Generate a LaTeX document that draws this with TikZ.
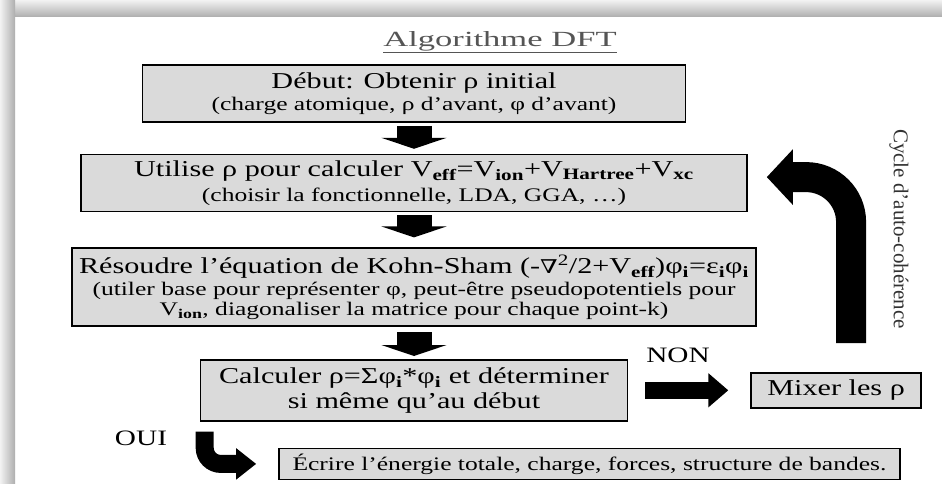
\documentclass[tikz,border=0pt]{standalone}
\usepackage{fontspec}
\setmainfont{Liberation Serif}
\newfontfamily\boxfont[FakeStretch=1.33]{Liberation Serif}
\newfontfamily\titlefont[FakeStretch=1.6]{Liberation Serif}
\newfontfamily\nablafont[FakeStretch=1.33]{DejaVu Serif}
\usetikzlibrary{positioning, arrows.meta}
\definecolor{boxgray}{RGB}{218,218,218}
\definecolor{titlegray}{RGB}{85,85,85}
\definecolor{sidegray}{RGB}{50,50,50}
\newcommand{\fsmain}{\fontsize{22.7}{22}\selectfont}
\newcommand{\fsnote}{\fontsize{19.2}{21}\selectfont}
\newcommand{\lowidx}[1]{\textsubscript{\bfseries #1}}

\begin{document}
\begin{tikzpicture}[x=1pt, y=1pt,
  node distance=31pt and 122pt,
  stage/.style={draw, line width=1.6pt, fill=boxgray, align=center,
                font=\boxfont\fsmain, inner sep=2pt},
  lbl/.style={font=\boxfont\fontsize{22}{22}\selectfont},
  sidelbl/.style={font=\fontsize{21}{21}\selectfont, text=sidegray},
  downarrow/.style={line width=35pt, -{Triangle[width=65pt, length=11pt]}},
  rightarrow/.style={line width=17pt, -{Triangle[width=33pt, length=20pt]}},
  ouiarrow/.style={line width=18pt, rounded corners=16pt, -{Triangle[width=30pt, length=20pt]}},
  cyclearrow/.style={line width=30pt, rounded corners=45pt, -{Triangle[width=54pt, length=26pt]}}]
  % page and frame
  \fill[white] (0,0) rectangle (942,-484);
  \useasboundingbox (0,0) rectangle (942,-484);
  \shade[top color=black!5, bottom color=black!32] (0,0) rectangle (942,-17);
  \shade[left color=black!5, right color=black!32] (0,0) rectangle (15,-484);

  \node[font=\titlefont\fontsize{21.6}{22}\selectfont, text=titlegray] (title) at (500,-42) {\underline{Algorithme DFT}};

  % main column
  \node[stage, minimum width=543pt, minimum height=57pt] (debut) at (414,-93.5)
    {Début: Obtenir ρ initial\\{\fsnote (charge atomique, ρ d’avant, φ d’avant)}};
  \node[stage, minimum width=666pt, minimum height=57pt, below=31pt of debut] (veff)
    {Utilise ρ pour calculer V\lowidx{eff}=V\lowidx{ion}+V\lowidx{Hartree}+V\lowidx{xc}\\[3pt]{\fsnote (choisir la fonctionnelle, LDA, GGA, …)}};
  \node[stage, minimum width=684pt, minimum height=78pt, below=35pt of veff] (kohn)
    {Résoudre l’équation de Kohn-Sham (-{\nablafont\fontsize{19}{19}\selectfont ∇}\textsuperscript{2}/2+V\lowidx{eff})φ\lowidx{i}=ε\lowidx{i}φ\lowidx{i}\\{\fsnote (utiler base pour représenter φ, peut-être pseudopotentiels pour}\\[-2pt]{\fsnote V\lowidx{ion}, diagonaliser la matrice pour chaque point-k)}};
  \node[stage, minimum width=427pt, minimum height=61pt, below=32pt of kohn] (rho)
    {Calculer ρ=Σφ\lowidx{i}*φ\lowidx{i} et déterminer\\[3pt]si même qu’au début};
  \node[stage, minimum width=170pt, minimum height=35pt, right=of rho] (mixer) {Mixer les ρ};
  \node[stage, font=\boxfont\fsnote, minimum width=621pt, minimum height=31pt,
        below=26pt of rho, xshift=175.5pt] (ecrire)
    {Écrire l’énergie totale, charge, forces, structure de bandes.};

  % block arrows
  \draw[downarrow, shorten <=3pt, shorten >=5pt] (debut.south) -- (debut.south |- veff.north);
  \draw[downarrow, shorten <=3pt, shorten >=10pt] (veff.south) -- (veff.south |- kohn.north);
  \draw[downarrow, shorten <=5pt, shorten >=3pt] (kohn.south) -- (kohn.south |- rho.north);
  \draw[rightarrow, shorten <=17pt, shorten >=22pt] (rho.east |- mixer.west) -- (mixer.west);
  \draw[ouiarrow] ([xshift=5pt, yshift=-10pt]rho.south west) |- ([xshift=-22pt]ecrire.west);
  \draw[cyclearrow] ([xshift=15pt, yshift=29pt]mixer.north) |- ([xshift=19pt, yshift=6pt]veff.east);

  \node[lbl] (non) at (678,-355) {NON};
  \node[lbl] (oui) at (141,-438) {OUI};
  \node[sidelbl, rotate=-90] (cycle) at (899,-229) {Cycle d’auto-cohérence};
\end{tikzpicture}
\end{document}
